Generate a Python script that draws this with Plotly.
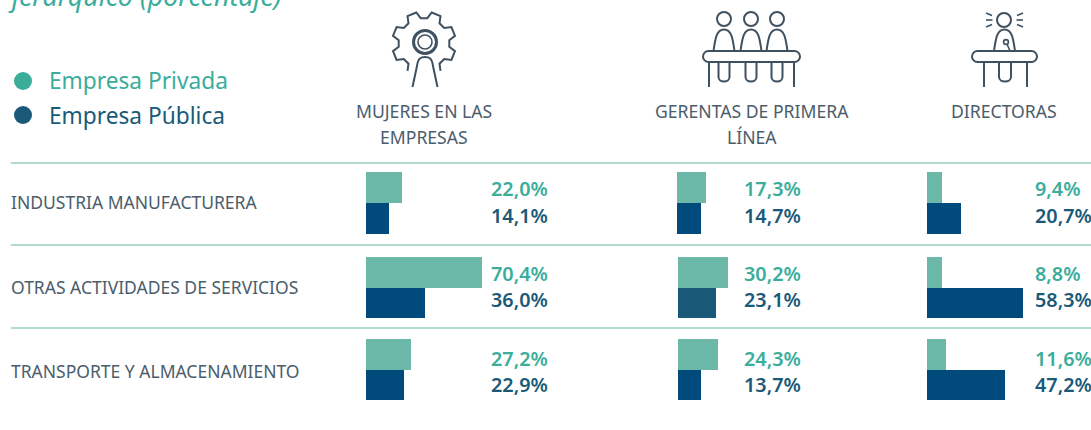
import math
import plotly.graph_objects as go

# ---- data ----
sectors = ["INDUSTRIA MANUFACTURERA", "OTRAS ACTIVIDADES DE SERVICIOS", "TRANSPORTE Y ALMACENAMIENTO"]
series_names = ["Empresa Privada", "Empresa Pública"]
mujeres_privada = [22.0, 70.4, 27.2]
mujeres_publica = [14.1, 36.0, 22.9]
gerentas_privada = [17.3, 30.2, 24.3]
gerentas_publica = [14.7, 23.1, 13.7]
directoras_privada = [9.4, 8.8, 11.6]
directoras_publica = [20.7, 58.3, 47.2]
title_tail = "jerárquico (porcentaje)"
col_titles = [["MUJERES EN LAS", "EMPRESAS"], ["GERENTAS DE PRIMERA", "LÍNEA"], ["DIRECTORAS"]]

# ---- style / layout ----
W, H = 1091, 430
FONT = "Noto Sans"
C_GREEN_TXT = "#3aad9b"
C_DARK_TXT = "#1a5a78"
C_GREY = "#4b5d6b"
C_ICON = "#3f5160"
C_BAR_G = "#6bb8a9"
C_BAR_B = "#004a7c"
C_RULE = "#98cfc3"
PX_PER_UNIT = 1.648
AXIS_SPAN = 72

cols = [mujeres_privada, mujeres_publica], [gerentas_privada, gerentas_publica], [directoras_privada, directoras_publica]
col_x0 = [[366, 366, 366], [677, 678, 678], [927, 927, 927]]
val_x = [491, 744, 1034.5]
row_box = [(172, 234), (257, 318), (339, 400)]
val_y = [(188.5, 215.5), (273.5, 299.5), (358.5, 384.5)]
label_y = [202, 286.5, 370.5]
rule_y = [163, 245, 328]
col_center = [424, 752, 1004]
head_y = [111, 137]

fig = go.Figure()
layout = {}
n = 0
for c, (priv, pub) in enumerate(cols):
    for r in range(3):
        n += 1
        x0 = col_x0[c][r]
        top, bot = row_box[r]
        layout[f"xaxis{n}"] = dict(domain=[x0 / W, (x0 + AXIS_SPAN * PX_PER_UNIT) / W], range=[0, AXIS_SPAN],
                                   visible=False, anchor=f"y{n}", fixedrange=True)
        layout[f"yaxis{n}"] = dict(domain=[1 - bot / H, 1 - top / H], range=[1.5, -0.5], visible=False,
                                   anchor=f"x{n}", type="category", fixedrange=True,
                                   categoryorder="array", categoryarray=series_names)
        pub_color = "#1a5a78" if (c, r) == (1, 1) else C_BAR_B
        fig.add_trace(go.Bar(x=[priv[r], pub[r]], y=series_names, orientation="h", width=1.0,
                             marker=dict(color=[C_BAR_G, pub_color], line=dict(width=0)),
                             xaxis=f"x{n}", yaxis=f"y{n}", showlegend=False, hoverinfo="skip"))

# overlay pixel axes for decoration
OX, OY = "x10", "y10"
layout["xaxis10"] = dict(domain=[0, 1], range=[0, W], visible=False, anchor="y10", fixedrange=True)
layout["yaxis10"] = dict(domain=[0, 1], range=[H, 0], visible=False, anchor="x10", fixedrange=True)
fig.add_trace(go.Scatter(x=[], y=[], xaxis=OX, yaxis=OY, showlegend=False))

shapes = []
ann = []


def text(x, y, s, size, color, anchor="left", weight=None, style=None, yshift=0):
    f = dict(family=FONT, size=size, color=color)
    if weight:
        f["weight"] = weight
    if style:
        f["style"] = style
    ann.append(dict(x=x, y=y, xref=OX, yref=OY, text=s, showarrow=False, xanchor=anchor, yanchor="middle",
                    font=f, align=anchor, borderpad=0, borderwidth=0, yshift=yshift))


def stroke(path, width=2.0, color=C_ICON):
    shapes.append(dict(type="path", path=path, xref=OX, yref=OY, line=dict(color=color, width=width),
                       fillcolor="rgba(0,0,0,0)", layer="above"))


def circle(cx, cy, r, width=2.0, fill=None, color=C_ICON):
    shapes.append(dict(type="circle", x0=cx - r, x1=cx + r, y0=cy - r, y1=cy + r, xref=OX, yref=OY,
                       line=dict(color=color, width=width), fillcolor=fill or "rgba(0,0,0,0)", layer="above"))


def arch(x0, x1, top, bottom):
    mx = (x0 + x1) / 2
    w = (x1 - x0)
    return (f"M{x0},{bottom} C{x0 + w * .08},{bottom - (bottom - top) * .5} {x0 + w * .12},{top} {mx},{top} "
            f"C{x1 - w * .12},{top} {x1 - w * .08},{bottom - (bottom - top) * .5} {x1},{bottom}")


def u_leg(x0, x1, top, bottom):
    return f"M{x0},{top} L{x0},{bottom - 6} C{x0},{bottom} {x1},{bottom} {x1},{bottom - 6} L{x1},{top}"


def table(x0, x1, y0, y1):
    r = (y1 - y0) / 2
    k = r * .55
    ym = (y0 + y1) / 2
    return (f"M{x0 + r},{y0} L{x1 - r},{y0} C{x1 - r + k},{y0} {x1},{ym - k} {x1},{ym} "
            f"C{x1},{ym + k} {x1 - r + k},{y1} {x1 - r},{y1} L{x0 + r},{y1} "
            f"C{x0 + r - k},{y1} {x0},{ym + k} {x0},{ym} C{x0},{ym - k} {x0 + r - k},{y0} {x0 + r},{y0} Z")


# rules
for y in rule_y:
    shapes.append(dict(type="line", x0=11, x1=W, y0=y, y1=y, xref=OX, yref=OY, line=dict(color=C_RULE, width=1.4)))

# gear icon
gcx, gcy = 424, 43.5
r_root, r_tip = 25.5, 32
pts = []
for k in range(8):
    ang = 112.5 + 45 * k
    for da, rad in ((-15, r_root), (-8.5, r_tip), (8.5, r_tip), (15, r_root)):
        t = math.radians(ang + da)
        pts.append((gcx + rad * math.cos(t), gcy + rad * math.sin(t)))
pts = pts[2:-2]
stroke("M" + " L".join(f"{x:.1f},{y:.1f}" for x, y in pts), 2.0)
circle(425, 42, 11.5, 3.0)
circle(425, 42, 7, 1.6)
shapes.append(dict(type="path", xref=OX, yref=OY, fillcolor="#ffffff", line=dict(color=C_ICON, width=2), layer="above",
                   path="M412.5,87 L417,66 C418,58 421,57 425,57 C429,57 432,58 433,66 L437.5,87"))

# panel icon
for hx in (724, 751, 777):
    circle(hx, 19, 7, 2.0)
    stroke(arch(hx - 10.5, hx + 10.5, 29.5, 51), 2.0)
    stroke(u_leg(hx - 5.5, hx + 5.5, 62, 83), 2.0)
shapes.append(dict(type="path", path=table(703, 800, 51, 62), xref=OX, yref=OY, fillcolor="#ffffff",
                   line=dict(color=C_ICON, width=2), layer="above"))
stroke("M709,62 L709,87", 2.0)
stroke("M794,62 L794,87", 2.0)

# director icon
circle(1004, 20, 7, 2.0)
for seg in ((986, 13, 992, 15.5), (986, 20, 992.5, 20), (986, 27, 992, 24.5),
            (1023, 13, 1017, 15.5), (1023, 20, 1016.5, 20), (1023, 27, 1017, 24.5)):
    stroke(f"M{seg[0]},{seg[1]} L{seg[2]},{seg[3]}", 1.6)
stroke(arch(994, 1015, 29.5, 51), 2.0)
circle(1006, 42, 2.4, 1.6)
stroke("M1007,44 L1010,51", 1.6)
stroke(u_leg(999, 1011, 62, 83), 2.0)
shapes.append(dict(type="path", path=table(972, 1037, 51, 62), xref=OX, yref=OY, fillcolor="#ffffff",
                   line=dict(color=C_ICON, width=2), layer="above"))
stroke("M984,62 L984,87", 2.0)
stroke("M1027,62 L1027,87", 2.0)

# legend
circle(23, 81, 9, 0, fill=C_GREEN_TXT, color=C_GREEN_TXT)
circle(23, 115, 9, 0, fill=C_DARK_TXT, color=C_DARK_TXT)
text(49, 80.5, series_names[0], 22.7, C_GREEN_TXT)
text(49, 115.5, series_names[1], 22.7, C_DARK_TXT)

# title remainder (clipped by the window)
text(8, 0, title_tail, 26.8, C_GREEN_TXT, style="italic", yshift=5)

# headers
for cx, lines in zip(col_center, col_titles):
    for y, line in zip(head_y, lines):
        text(cx, y, line, 17.6, C_GREY, anchor="center")

# row labels
for y, s in zip(label_y, sectors):
    text(11, y, s, 17.5, C_GREY)

# values
fmt = lambda v: f"{v:.1f}%".replace(".", ",")
for c, (priv, pub) in enumerate(cols):
    for r in range(3):
        text(val_x[c], val_y[r][0], fmt(priv[r]), 19.8, C_GREEN_TXT, weight=600)
        text(val_x[c], val_y[r][1], fmt(pub[r]), 19.8, C_DARK_TXT, weight=600)

fig.update_layout(width=W, height=H, margin=dict(l=0, r=0, t=0, b=0, pad=0), autosize=False,
                  paper_bgcolor="#ffffff", plot_bgcolor="rgba(0,0,0,0)", barmode="overlay",
                  bargap=0, shapes=shapes, annotations=ann, showlegend=False, **layout)
fig.write_html("out.html", config={"displayModeBar": False},
               post_script="document.body.style.margin='0';document.documentElement.style.overflow='hidden';")
